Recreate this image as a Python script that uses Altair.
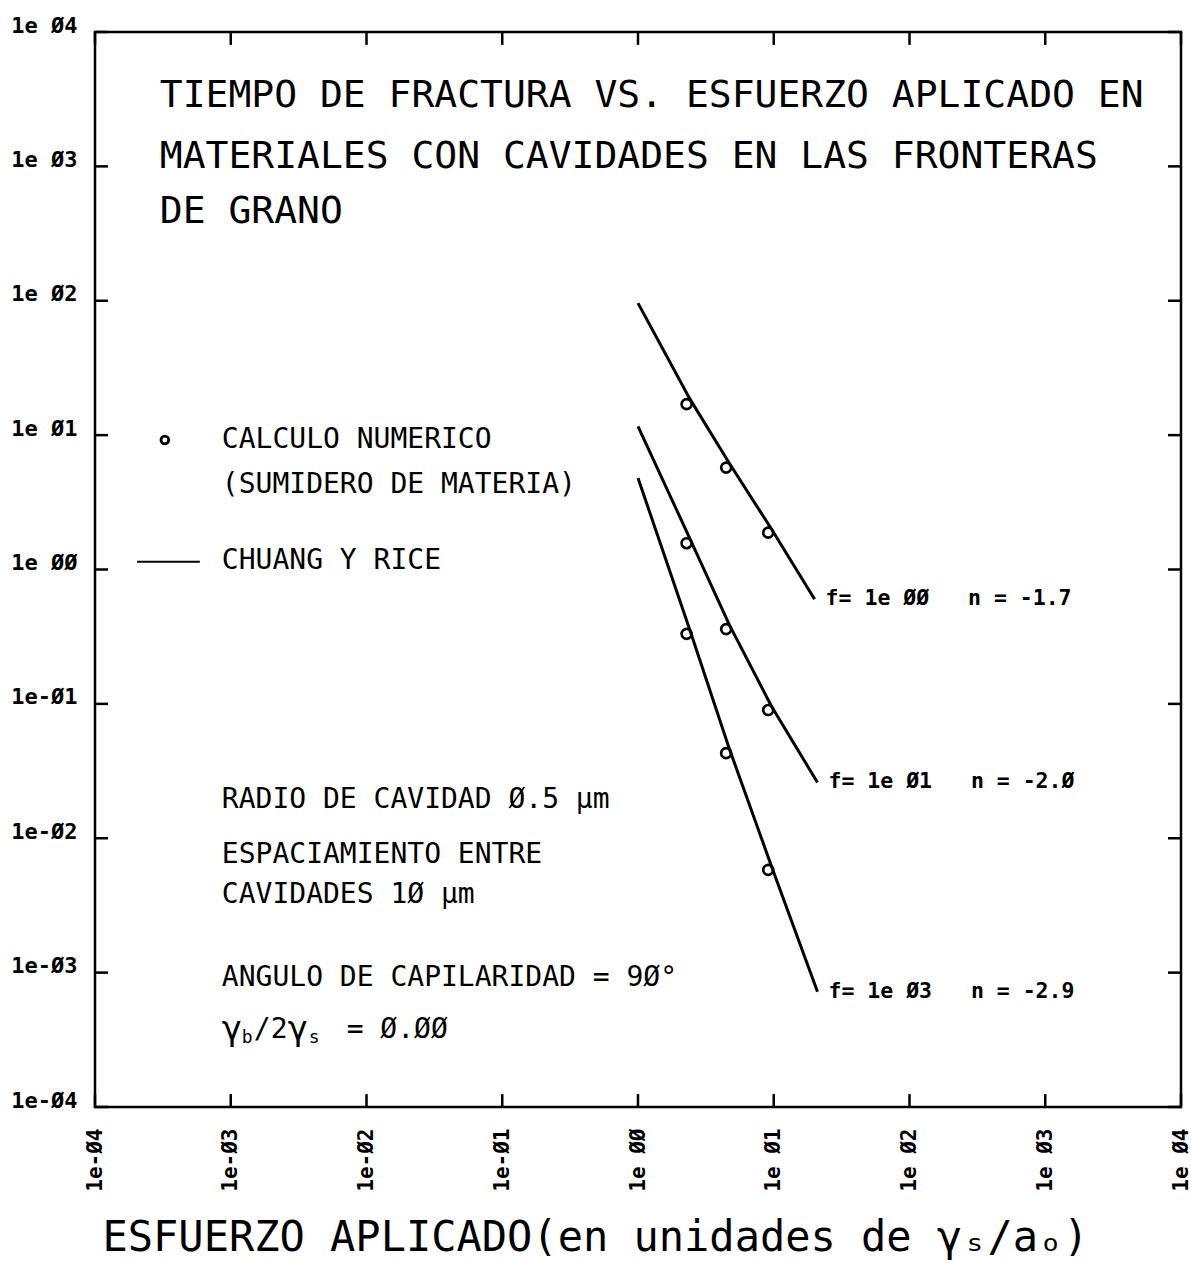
import json
import altair as alt
import pandas as pd

FONT = "DejaVu Sans Mono"
NB = "\u00a0"  # keeps repeated spaces in SVG text

# Decades on both logarithmic axes and the labels printed at them
decades = [1e-4, 1e-3, 1e-2, 1e-1, 1e0, 1e1, 1e2, 1e3, 1e4]
tick_labels = ["1e-Ø4", "1e-Ø3", "1e-Ø2", "1e-Ø1", "1e ØØ",
               "1e Ø1", "1e Ø2", "1e Ø3", "1e Ø4"]

# Chuang y Rice curves, one per f value
series_f = ["1e ØØ", "1e Ø1", "1e Ø3"]
series_n = ["-1.7", "-2.Ø", "-2.9"]
curve_x = {
    "1e ØØ": [1.0, 2.41, 4.72, 9.62, 20.0],
    "1e Ø1": [1.0, 2.41, 4.72, 9.62, 21.0],
    "1e Ø3": [1.0, 2.41, 4.72, 9.62, 21.0],
}
curve_y = {
    "1e ØØ": [96.0, 18.6, 6.15, 2.0, 0.60],
    "1e Ø1": [11.6, 1.70, 0.385, 0.096, 0.026],
    "1e Ø3": [4.8, 0.355, 0.046, 0.0062, 7.2e-4],
}

# Calculo numerico (sumidero de materia)
point_x = [2.28, 4.46, 9.1]
point_y = {
    "1e ØØ": [17.0, 5.73, 1.88],
    "1e Ø1": [1.57, 0.360, 0.090],
    "1e Ø3": [0.332, 0.0430, 0.00582],
}

title_lines = [
    "TIEMPO DE FRACTURA VS. ESFUERZO APLICADO EN",
    "MATERIALES CON CAVIDADES EN LAS FRONTERAS",
    "DE GRANO",
]
x_title = "ESFUERZO APLICADO(en unidades de γₛ/aₒ)"

W, H = 1086, 1075
TICK_DEC = 0.096  # inward tick length, in decades

lines_df = pd.DataFrame(
    [{"f": f, "x": x, "y": y} for f in series_f for x, y in zip(curve_x[f], curve_y[f])]
)
points_df = pd.DataFrame(
    [{"f": f, "x": x, "y": y} for f in series_f for x, y in zip(point_x, point_y[f])]
)
labels_df = pd.DataFrame({
    "x": [curve_x[f][-1] for f in series_f],
    "y": [curve_y[f][-1] for f in series_f],
    "label": [f"f= {f}{NB * 3}n = {n}" for f, n in zip(series_f, series_n)],
})

xs = alt.Scale(type="log", domain=[1e-4, 1e4], nice=False)
ys = alt.Scale(type="log", domain=[1e-4, 1e4], nice=False)

label_expr = f"{json.dumps(tick_labels, ensure_ascii=False)}[round(log(datum.value)/LN10)+4]"

x_axis = alt.Axis(
    values=decades, labelExpr=label_expr, labelAngle=270, labelFont=FONT,
    labelFontSize=21, labelFontWeight="bold", labelPadding=21, labelColor="black",
    labelFlush=False, ticks=False, domain=False, grid=False,
    title=x_title, titleFont=FONT, titleFontSize=42, titleFontWeight="normal",
    titleColor="black", titleAlign="left", titleBaseline="middle",
    titleX=7, titleY=130,
)
y_axis = alt.Axis(
    values=decades, labelExpr=label_expr, labelFont=FONT, labelFontSize=22,
    labelFontWeight="bold", labelPadding=18, labelBaseline="alphabetic",
    labelColor="black", ticks=False, domain=False, grid=False, title=None,
)

lines = alt.Chart(lines_df).mark_line(color="black", strokeWidth=3).encode(
    detail="f:N",
)

points = alt.Chart(points_df).mark_point(
    shape="circle", size=100, filled=False, color="black", strokeWidth=2.6, opacity=1
)

line_labels = alt.Chart(labels_df).mark_text(
    font=FONT, fontSize=21.5, fontWeight="bold", align="left", baseline="middle",
    dx=11, color="black",
).encode(text="label:N")

# Inward ticks on all four sides of the frame
lo, hi = 1e-4, 1e4
k = 10 ** TICK_DEC
ticks_df = pd.DataFrame(
    [{"x": d, "x2": d, "y": lo, "y2": lo * k} for d in decades]
    + [{"x": d, "x2": d, "y": hi, "y2": hi / k} for d in decades]
    + [{"x": lo, "x2": lo * k, "y": d, "y2": d} for d in decades]
    + [{"x": hi, "x2": hi / k, "y": d, "y2": d} for d in decades]
)
ticks = alt.Chart(ticks_df).mark_rule(color="black", strokeWidth=2.5).encode(
    x2="x2:Q", y2="y2:Q",
)

# Title block inside the frame
title_df = pd.DataFrame({"x": [3.0e-4] * 3, "y": [3342.0, 1175.0, 458.0], "t": title_lines})
title = alt.Chart(title_df).mark_text(
    font=FONT, fontSize=38, align="left", baseline="middle", color="black"
).encode(text="t:N")

# Legend and notes
TX = 8.6e-4
step = 10 ** (1 / 136)          # one pixel along x, as a factor
SUB = 10 ** (-8 / 134.4)        # subscript drop, as a factor
GY = 3.75e-4
notes_df = pd.DataFrame({
    "x": [TX] * 7 + [TX, TX * step ** 20, TX * step ** 32, TX * step ** 66,
                     TX * step ** 87, TX * step ** 125],
    "y": [9.2, 4.26, 1.16, 0.0193, 0.00753, 0.00379, 9.14e-4]
         + [GY, GY * SUB, GY, GY, GY * SUB, GY],
    "t": ["CALCULO NUMERICO", "(SUMIDERO DE MATERIA)", "CHUANG Y RICE",
          "RADIO DE CAVIDAD Ø.5 μm", "ESPACIAMIENTO ENTRE", "CAVIDADES 1Ø μm",
          "ANGULO DE CAPILARIDAD = 9Ø°",
          "γ", "b", "/2", "γ", "s", "= Ø.ØØ"],
    "s": [28] * 7 + [34, 18, 28, 34, 18, 28],
})
notes = alt.Chart(notes_df).mark_text(
    font=FONT, align="left", baseline="middle", color="black"
).encode(
    text="t:N",
    size=alt.Size("s:Q", scale=None),
)

legend_pt = alt.Chart(pd.DataFrame({"x": [3.27e-4], "y": [9.2]})).mark_point(
    shape="circle", size=60, filled=False, color="black", strokeWidth=2.8, opacity=1
)
legend_line = alt.Chart(
    pd.DataFrame({"x": [2.04e-4], "x2": [5.92e-4], "y": [1.14]})
).mark_rule(color="black", strokeWidth=2).encode(x2="x2:Q")

chart = alt.layer(
    lines, points, line_labels, ticks, title, notes, legend_pt, legend_line,
).encode(
    x=alt.X("x:Q", scale=xs, axis=x_axis),
    y=alt.Y("y:Q", scale=ys, axis=y_axis),
).properties(
    width=W, height=H,
    padding={"left": 95, "top": 32, "right": 10, "bottom": 162},
    autosize=alt.AutoSizeParams(type="none"),
    background="white",
).configure_view(stroke="black", strokeWidth=2.5)

chart.save("out.html", embed_options={"renderer": "svg", "actions": False})
